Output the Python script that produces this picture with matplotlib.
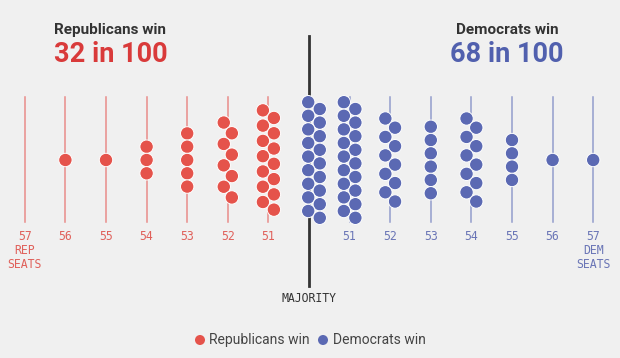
import numpy as np
import matplotlib.pyplot as plt
from matplotlib.patches import Circle

# seats won in each simulated outcome (out of 100 runs)
rep_seats = [57, 56, 55, 54, 53, 52, 51]
rep_counts = [0, 1, 1, 3, 5, 8, 14]
dem_seats = [50, 51, 52, 53, 54, 55, 56, 57]
dem_counts = [18, 18, 10, 6, 10, 4, 1, 1]
rep_total, dem_total = 32, 68

RED, BLUE = '#E5534B', '#5B69B3'
RED_LINE, BLUE_LINE = '#E98C89', '#939DCC'
RED_TXT, BLUE_TXT = '#E0605A', '#6A75B6'
BG = '#F0F0F0'

W, H = 620, 358
mid_x, step = 309, 40.6   # pixel position of majority line, column spacing
cy = 160                   # vertical centre of the swarm
d = 13.4                   # dot diameter


def swarm(n):
    """zigzag offsets (dx, dy) for n dots in one column"""
    if n == 0:
        return np.array([]), np.array([])
    if n == 1:
        return np.array([0.0]), np.array([0.0])
    h = min(13.3 * (n - 1), 46.4 + 4.07 * (n - 1))
    s = h / (n - 1)
    dx = np.sqrt(max(d**2 - s**2, 0)) / 2 if s < 13 else 0.0
    ys = -h / 2 + s * np.arange(n)
    xs = np.array([dx if i % 2 else -dx for i in range(n)])
    if dx > 0:
        xs = xs - xs.mean()
    return xs, ys


fig = plt.figure(figsize=(W / 100, H / 100), dpi=100)
fig.patch.set_facecolor(BG)
ax = fig.add_axes([0, 0, 1, 1])
ax.set_xlim(0, W)
ax.set_ylim(H, 0)
ax.set_aspect('equal')
ax.axis('off')

mono = 'DejaVu Sans Mono'
fs_mono = 8.3

# republican columns
for seat, n in zip(rep_seats, rep_counts):
    x = mid_x - step * (seat - 50)
    ax.plot([x, x], [97, 222], color=RED_LINE, lw=1.1, zorder=1)
    xs, ys = swarm(n)
    for dx, dy in zip(xs, ys):
        ax.add_patch(Circle((x + dx, cy + dy), d / 2, fc=RED, ec='white', lw=0.7, zorder=3))
    ax.text(x, 237, str(seat), color=RED_TXT, fontsize=fs_mono, family=mono,
            ha='center', va='center')

# democratic columns
for seat, n in zip(dem_seats, dem_counts):
    x = mid_x + step * (seat - 50)
    if seat == 50:
        x += 5
    else:
        ax.plot([x, x], [97, 222], color=BLUE_LINE, lw=1.1, zorder=1)
        ax.text(x, 237, str(seat), color=BLUE_TXT, fontsize=fs_mono, family=mono,
                ha='center', va='center')
    xs, ys = swarm(n)
    for dx, dy in zip(xs, ys):
        ax.add_patch(Circle((x + dx, cy + dy), d / 2, fc=BLUE, ec='white', lw=0.7, zorder=3))

x57r = mid_x - step * 7
x57d = mid_x + step * 7
ax.text(x57r, 251, 'REP', color=RED_TXT, fontsize=fs_mono, family=mono, ha='center', va='center')
ax.text(x57r, 265, 'SEATS', color=RED_TXT, fontsize=fs_mono, family=mono, ha='center', va='center')
ax.text(x57d, 251, 'DEM', color=BLUE_TXT, fontsize=fs_mono, family=mono, ha='center', va='center')
ax.text(x57d, 265, 'SEATS', color=BLUE_TXT, fontsize=fs_mono, family=mono, ha='center', va='center')

# majority line
ax.plot([mid_x, mid_x], [36, 286], color='#333333', lw=2, zorder=2)
ax.text(mid_x, 298, 'MAJORITY', color='#333333', fontsize=fs_mono, family=mono,
        ha='center', va='center')

# headline numbers
ax.text(110, 30, 'Republicans win', color='#333333', fontsize=11, family='Roboto',
        fontweight='bold', ha='center', va='center')
ax.text(111, 54, f'{rep_total} in 100', color='#D93A3A', fontsize=19.5, family='Roboto',
        fontweight='bold', ha='center', va='center')
ax.text(507, 30, 'Democrats win', color='#333333', fontsize=11, family='Roboto',
        fontweight='bold', ha='center', va='center')
ax.text(507, 54, f'{dem_total} in 100', color='#5160AE', fontsize=19.5, family='Roboto',
        fontweight='bold', ha='center', va='center')

# legend
ax.add_patch(Circle((200, 340), 5, fc=RED, ec='none'))
ax.text(209, 340, 'Republicans win', color='#444444', fontsize=10, family='Roboto',
        ha='left', va='center')
ax.add_patch(Circle((323, 340), 5, fc=BLUE, ec='none'))
ax.text(333, 340, 'Democrats win', color='#444444', fontsize=10, family='Roboto',
        ha='left', va='center')

plt.savefig('out.png', dpi=100, facecolor=BG)
